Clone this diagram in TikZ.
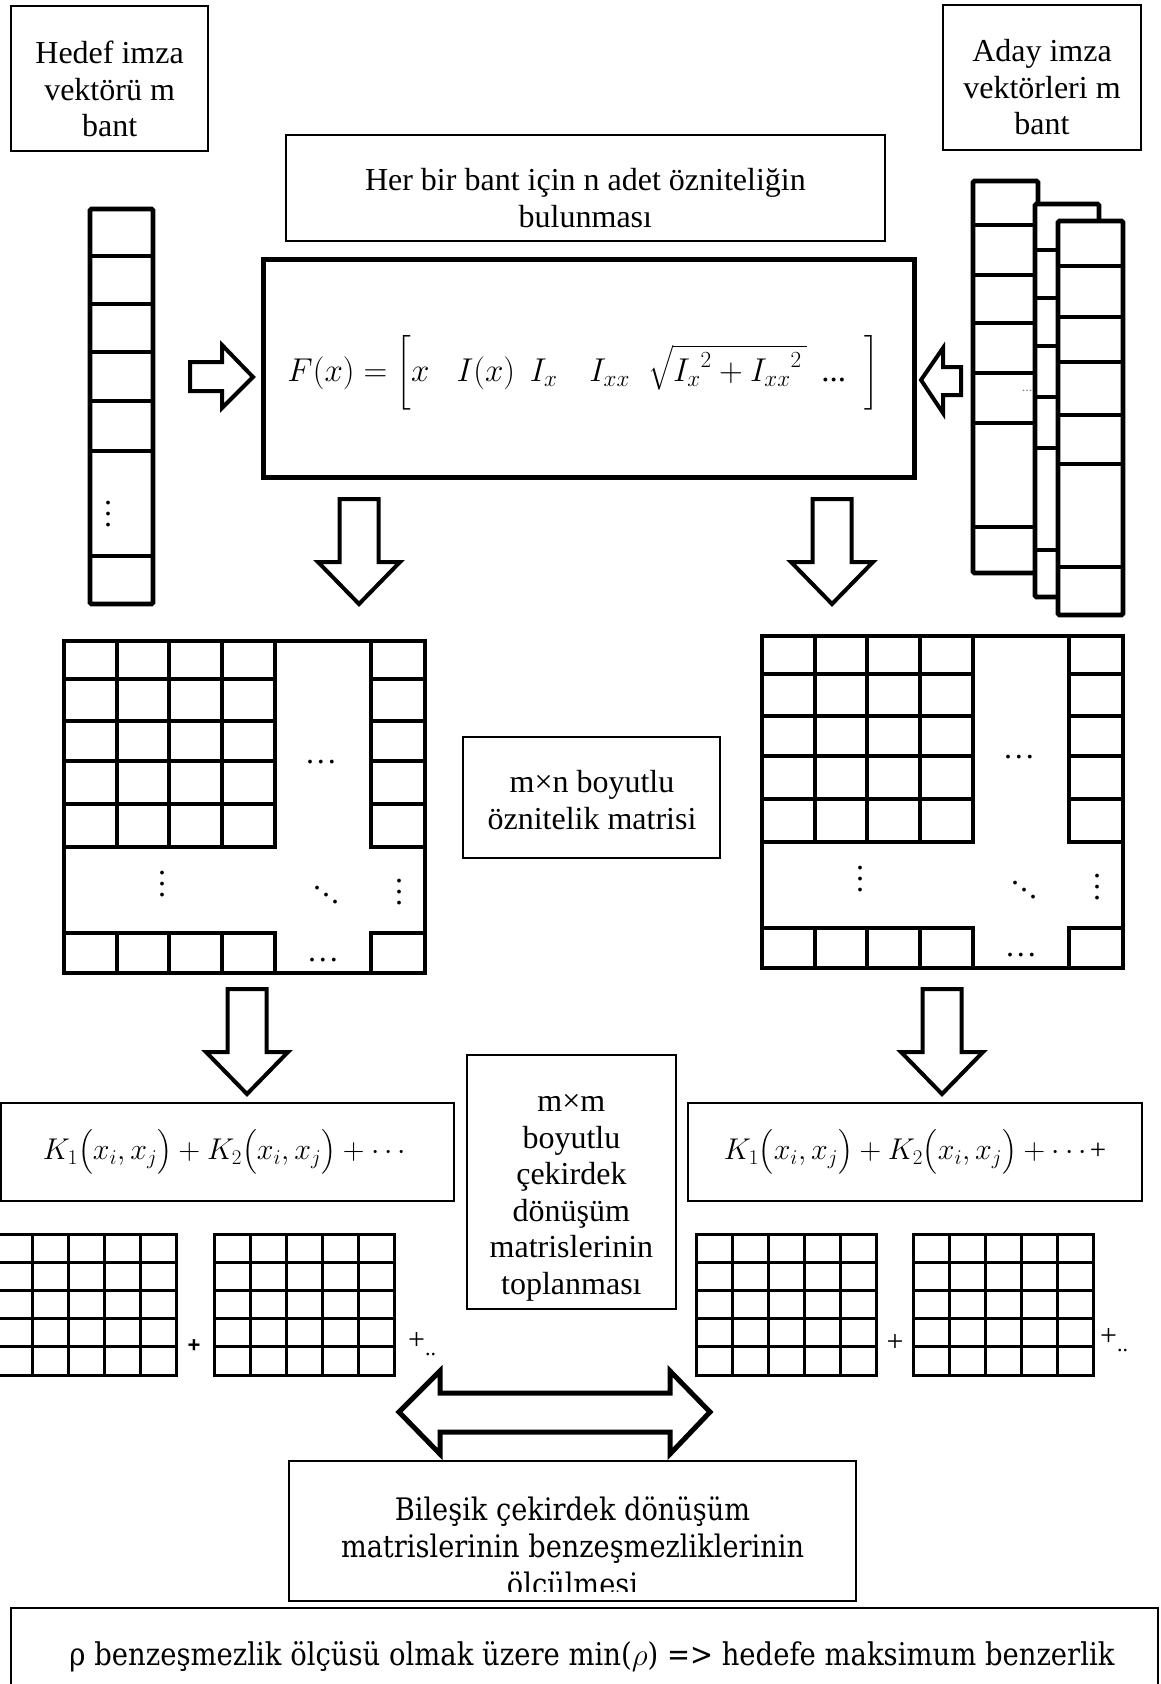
\RequirePackage{fix-cm}
\documentclass[tikz,border=0pt]{standalone}
\usepackage{amsmath}
\usepackage{fontspec}
\setmainfont{Liberation Serif}
\newfontfamily\cambriafont[FakeStretch=0.877]{DejaVu Serif}
\newfontfamily\plussans{Liberation Sans}
% dotted ellipses set from periods of the text font
\newcommand{\hdotrow}{.\kern3pt.\kern3pt.}
\newcommand{\ddotrow}{\raisebox{14pt}{.}\kern1pt\raisebox{7pt}{.}\kern1pt.}
\begin{document}
\begin{tikzpicture}[x=1pt,y=-1pt,
  thinbox/.style={draw, line width=1.4pt, inner sep=0pt},
  thickbox/.style={draw, line width=5pt, inner sep=0pt},
  lbl/.style={font=\fontsize{32}{36.5}\selectfont, align=center, inner sep=0pt},
  cbl/.style={font=\cambriafont\fontsize{31}{37.5}\selectfont, align=center, inner sep=0pt},
  mathlbl/.style={font=\fontsize{30}{38}\selectfont, inner sep=0pt},
  vecline/.style={line width=4.8pt, rounded corners=1.5pt},
  matline/.style={line width=4.5pt, line cap=rect},
  gridline/.style={line width=3pt, line cap=rect},
  blockarrow/.style={draw, line width=4pt, fill=white, line join=miter},
  dotsnode/.style={font=\fontsize{32}{11}\selectfont, inner sep=0pt, align=center},
  featmat/.pic={
    \draw[matline] (0,0) rectangle (361,332);
    \foreach \xx in {53,105,158,211,307} {
      \draw[matline] (\xx,0) -- (\xx,206);
      \draw[matline] (\xx,292) -- (\xx,332);
    }
    \foreach \yy in {38,80,120,163,206,292} {
      \draw[matline] (0,\yy) -- (211,\yy);
      \draw[matline] (307,\yy) -- (361,\yy);
    }
    \node[dotsnode, anchor=base] (hdots) at (257,122) {\hdotrow};
    \node[dotsnode, anchor=base] (vdotsl) at (98,255) {.\\.\\.};
    \node[dotsnode, anchor=base] (ddots) at (262,262) {\ddotrow};
    \node[dotsnode, anchor=base] (vdotsr) at (335,263) {.\\.\\.};
    \node[dotsnode, anchor=base] (bdots) at (259,320) {\hdotrow};
  },
  kgrid/.pic={
    \foreach \xx in {0,36,72,108,144,180} \draw[gridline] (\xx,0) -- (\xx,141);
    \foreach \yy in {0,28.2,56.4,84.6,112.8,141} \draw[gridline] (0,\yy) -- (180,\yy);
  },
  downblk/.pic={
    \draw[blockarrow] (-19.5,0) -- (19.5,0) -- (19.5,63) -- (41,63) -- (0,105)
      -- (-41,63) -- (-19.5,63) -- cycle;
  }
]
\fill[white] (0,0) rectangle (1160,1684);
\useasboundingbox (0,0) rectangle (1160,1684);

% --- header boxes ---
\node[thinbox, minimum width=197pt, minimum height=145pt] (hedef) at (109.5,78.5) {};
\node[lbl] (hedeftxt) at (109.6,89) {Hedef imza\\vektörü m\\bant};
\node[thinbox, minimum width=198pt, minimum height=145pt] (aday) at (1042,77.5) {};
\node[lbl] (adaytxt) at (1042,87.5) {Aday imza\\vektörleri m\\bant};
\node[thinbox, minimum width=599pt, minimum height=106pt] (herbir) at (585.5,188) {};
\node[lbl] (herbirtxt) at (585.4,198) {Her bir bant için n adet özniteliğin\\bulunması};

% --- feature formula ---
\node[thickbox, minimum width=651pt, minimum height=218pt] (fbox) at (588.5,368) {};
\node[mathlbl, font=\fontsize{33}{38}\selectfont] (formula) at (583,373)
  {$F(x)=\biggl[x\hspace{27pt}I(x)\;\,I_x\hspace{32pt}I_{xx}\;\;\sqrt{{I_x}^2+{I_{xx}}^2\,}\hspace{14pt}\text{...}\hspace{18pt}\biggr]$};

% --- target signature vector ---
\draw[vecline] (90,209) rectangle (153,604);
\foreach \yy in {256,304,352,401,451,556} \draw[vecline] (90,\yy) -- (153,\yy);
\node[dotsnode, anchor=base] (tvdots) at (108,526) {.\\.\\.};

% --- candidate signature vectors (stacked) ---
\draw[vecline, fill=white] (973,181) rectangle (1038,573);
\foreach \yy in {225,275,323,373,423,527} \draw[vecline] (973,\yy) -- (1038,\yy);
\node[fill=white, inner sep=0pt, minimum width=18pt, minimum height=28pt, text=gray,
  font=\fontsize{14}{14}\selectfont] (stackdots) at (1027,391) {...};
\draw[vecline, fill=white] (1035,204) rectangle (1099,597);
\foreach \yy in {250,298,346,397,448,550} \draw[vecline] (1035,\yy) -- (1099,\yy);
\draw[vecline, fill=white] (1058,221) rectangle (1123,615);
\foreach \yy in {266,317,362,415,464,567} \draw[vecline] (1058,\yy) -- (1123,\yy);

% --- side arrows into the formula box ---
\draw[blockarrow] (190,362) -- (222,362) -- (222,345) -- (253,377) -- (222,408)
  -- (222,391) -- (190,391) -- cycle;
\draw[blockarrow] (961,367) -- (943,367) -- (943,348) -- (921,380) -- (943,413)
  -- (943,395) -- (961,395) -- cycle;

% --- arrows down to the feature matrices ---
\pic (dl1) at (359,499) {downblk};
\pic (dr1) at (832,499) {downblk};

% --- feature matrices ---
\pic (lmat) at (64,641) {featmat};
\pic (rmat) at (762,636) {featmat};
\node[thinbox, minimum width=257pt, minimum height=121pt] (mxn) at (591.5,797.5) {};
\node[lbl] (mxntxt) at (592,800) {m×n boyutlu\\öznitelik matrisi};

% --- arrows down to the kernel sums ---
\pic (dl2) at (247,989) {downblk};
\pic (dr2) at (942,989) {downblk};

% --- kernel sums ---
\node[thinbox, minimum width=453pt, minimum height=98pt] (kleft) at (227.5,1152) {};
\node[mathlbl] (klefttxt) at (227,1152) {$K_1\bigl(x_i,x_j\bigr)+K_2\bigl(x_i,x_j\bigr)+\cdots$};
\node[thinbox, minimum width=454pt, minimum height=98pt] (kright) at (915,1152) {};
\node[mathlbl] (krighttxt) at (915,1152) {$K_1\bigl(x_i,x_j\bigr)+K_2\bigl(x_i,x_j\bigr)+\cdots$\kern-2pt{\fontsize{29}{29}\selectfont+}};
\node[thinbox, minimum width=209pt, minimum height=254pt] (mxm) at (571.5,1182) {};
\node[lbl] (mxmtxt) at (571.4,1198) {m×m\\boyutlu\\çekirdek\\dönüşüm\\matrislerinin\\toplanması};

% --- kernel matrices ---
\pic (g1) at (-4,1234) {kgrid};
\pic (g2) at (214,1234) {kgrid};
\pic (g3) at (696,1234) {kgrid};
\pic (g4) at (913,1234) {kgrid};
\node[font=\plussans\bfseries\fontsize{22}{22}\selectfont, inner sep=0pt] (plus1) at (194,1346) {+};
\node[font=\fontsize{30}{30}\selectfont, inner sep=0pt, anchor=west] (plus2) at (408,1344) {+\raisebox{-6pt}{\fontsize{22}{22}\selectfont..}};
\node[font=\fontsize{30}{30}\selectfont, inner sep=0pt] (plus3) at (895,1343) {+};
\node[font=\fontsize{30}{30}\selectfont, inner sep=0pt, anchor=west] (plus4) at (1100,1340) {+\raisebox{-6pt}{\fontsize{22}{22}\selectfont..}};

% --- comparison arrow ---
\draw[blockarrow, line width=5pt] (399,1412) -- (440,1371) -- (440,1393) -- (670,1393)
  -- (670,1371) -- (710,1412) -- (670,1454) -- (670,1432) -- (440,1432)
  -- (440,1454) -- cycle;

% --- dissimilarity measurement ---
\node[thinbox, minimum width=567pt, minimum height=140pt] (bilesik) at (572.5,1531) {};
\begin{scope}
  \clip (289,1461) rectangle (856,1591);
  \node[cbl] (bilesiktxt) at (572.5,1549) {Bileşik çekirdek dönüşüm\\matrislerinin benzeşmezliklerinin\\ölçülmesi};
\end{scope}

% --- decision rule ---
\node[thinbox, minimum width=1147pt, minimum height=84pt] (rule) at (584.5,1650) {};
\node[cbl, font=\cambriafont\fontsize{31.3}{37.5}\selectfont] (ruletxt) at (592,1657) {ρ benzeşmezlik ölçüsü olmak üzere min($\rho$) => hedefe maksimum benzerlik};
\end{tikzpicture}
\end{document}
